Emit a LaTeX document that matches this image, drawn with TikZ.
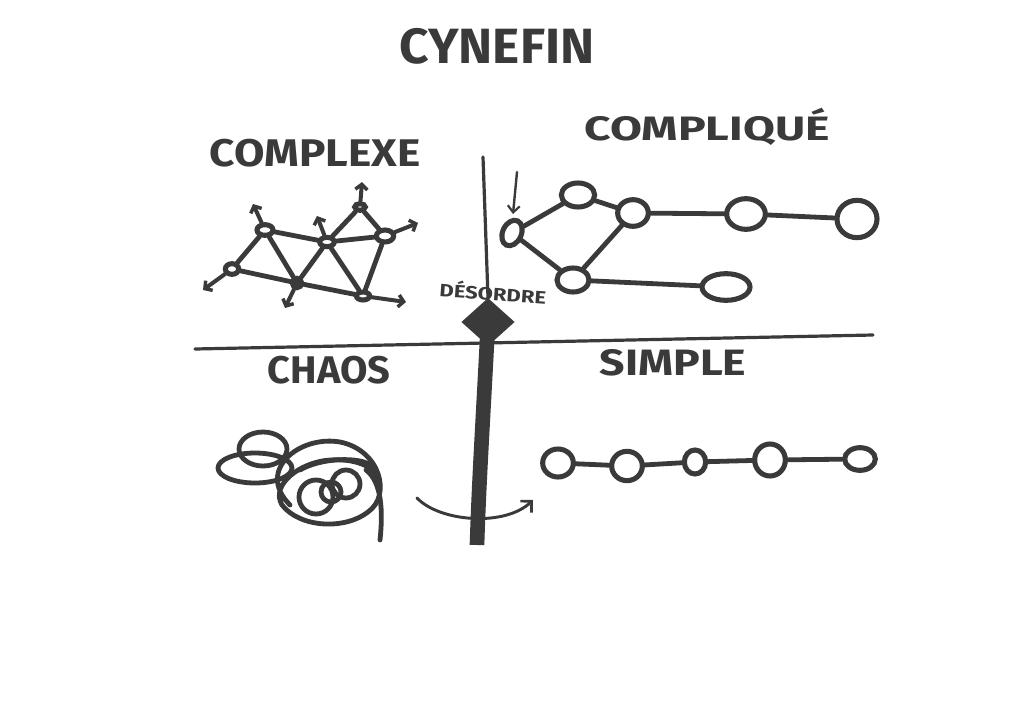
\documentclass[tikz,border=0pt]{standalone}
\usepackage{fontspec}
\setsansfont{Fira Sans}
\usetikzlibrary{arrows.meta,shapes.geometric}
\definecolor{ink}{HTML}{3A3A3A}
\newcommand\fitlabel[3]{\resizebox*{#1}{#2}{\sffamily\fontseries{sb}\selectfont #3}}
\tikzset{
  inkline/.style={draw=ink, line width=3.6pt, line cap=round, line join=round},
  axisline/.style={draw=ink, line width=2.4pt, line cap=round},
  bubble/.style={ellipse, draw=ink, line width=3.8pt, fill=white, inner sep=0pt},
  outarrow/.style={inkline, line width=3pt, -{Straight Barb[length=4pt,width=9pt,line width=2.6pt]}},
  thinarrow/.style={draw=ink, line width=2.2pt, line cap=round, -{Straight Barb[length=6pt,width=12pt,line width=2pt]}},
  title/.style={text=ink, inner sep=0pt}
}
\begin{document}
\begin{tikzpicture}[x=0.75pt,y=-0.75pt]
\useasboundingbox[fill=white] (0,0) rectangle (1024,724);

% ---------- titles ----------
\node[title] (tcyn) at (497,46) {\fitlabel{146pt}{27pt}{CYNEFIN}};
\node[title] (tcx) at (315,153) {\fitlabel{158pt}{21pt}{COMPLEXE}};
\node[title] (tcq) at (707,127) {\fitlabel{184pt}{28pt}{COMPLIQUÉ}};
\node[title] (tch) at (329,370) {\fitlabel{92pt}{21pt}{CHAOS}};
\node[title] (tsi) at (673,363) {\fitlabel{110pt}{20pt}{SIMPLE}};
\node[title, rotate=-4] (tds) at (493,292) {\fitlabel{80pt}{13pt}{DÉSORDRE}};

% ---------- axes ----------
\coordinate (hl) at (195,349);
\coordinate (hr) at (873,335);
\coordinate (vt) at (483,157);
\coordinate (vb) at (477,545);
\draw[axisline] (hl) -- (hr);
\node[diamond, fill=ink, inner sep=0pt, minimum width=40pt, minimum height=36pt] (dz) at (488,322) {};
\draw[axisline] (vt) -- (dz.north);
% transition arrow (chaos -> simple)
\coordinate (ta) at (417,498);
\coordinate (tb) at (533,500);
\draw[thinarrow] (ta) .. controls (440,522) and (505,527) .. (tb);
\draw[draw=ink, line width=11pt, line cap=butt] (dz.center) .. controls (483,420) and (479,480) .. (vb);

% ---------- COMPLEXE network ----------
\node[bubble, minimum width=12pt, minimum height=8pt] (n1) at (265,230) {};
\node[bubble, minimum width=11pt, minimum height=7pt] (n2) at (327,242) {};
\node[bubble, minimum width=8pt, minimum height=5pt] (n3) at (360,207) {};
\node[bubble, minimum width=13pt, minimum height=9pt] (n4) at (385,236) {};
\node[bubble, minimum width=10pt, minimum height=8pt] (n5) at (232,269) {};
\node[bubble, minimum width=7pt, minimum height=7pt, fill=ink] (n6) at (297,283) {};
\node[bubble, minimum width=10pt, minimum height=6pt] (n7) at (363,296) {};
\draw[inkline] (n1) -- (n2);
\draw[inkline] (n1) -- (n5);
\draw[inkline] (n1) -- (n6);
\draw[inkline] (n2) -- (n3);
\draw[inkline] (n2) -- (n4);
\draw[inkline] (n3) -- (n4);
\draw[inkline] (n2) -- (n6);
\draw[inkline] (n2) -- (n7);
\draw[inkline] (n5) -- (n6);
\draw[inkline] (n6) -- (n7);
\draw[inkline] (n4) -- (n7);
\coordinate (a1) at (253,204);
\coordinate (a2) at (317,216);
\coordinate (a3) at (362,182);
\coordinate (a4) at (418,223);
\coordinate (a5) at (203,290);
\coordinate (a6) at (285,308);
\coordinate (a7) at (406,302);
\draw[outarrow] (n1) -- (a1);
\draw[outarrow] (n2) -- (a2);
\draw[outarrow] (n3) -- (a3);
\draw[outarrow] (n4) -- (a4);
\draw[outarrow] (n5) -- (a5);
\draw[outarrow] (n6) -- (a6);
\draw[outarrow] (n7) -- (a7);

% ---------- COMPLIQUE chain ----------
\node[bubble, minimum width=14pt, minimum height=20pt, rotate=-25] (c1) at (512,233) {};
\node[bubble, minimum width=25pt, minimum height=18pt] (c2) at (578,195) {};
\node[bubble, minimum width=23pt, minimum height=20pt] (c3) at (633,213) {};
\node[bubble, minimum width=29pt, minimum height=23pt] (c4) at (746,214) {};
\node[bubble, minimum width=30pt, minimum height=28pt] (c5) at (857,219) {};
\node[bubble, minimum width=24pt, minimum height=18pt] (c6) at (573,280) {};
\node[bubble, minimum width=36pt, minimum height=20pt] (c7) at (726,287) {};
\draw[inkline] (c1) -- (c2);
\draw[inkline] (c2) -- (c3);
\draw[inkline] (c3) -- (c4);
\draw[inkline] (c4) -- (c5);
\draw[inkline] (c1) -- (c6);
\draw[inkline] (c6) -- (c3);
\draw[inkline] (c6) -- (c7);
\coordinate (p1) at (517,172);
\coordinate (p2) at (513,214);
\draw[draw=ink, line width=1.8pt, line cap=round, -{Straight Barb[length=5pt,width=9pt,line width=1.6pt]}] (p1) -- (p2);

% ---------- SIMPLE chain ----------
\node[bubble, minimum width=23pt, minimum height=21pt] (s1) at (558,463) {};
\node[bubble, minimum width=23pt, minimum height=22pt] (s2) at (627,466) {};
\node[bubble, minimum width=16pt, minimum height=18pt] (s3) at (695,462) {};
\node[bubble, minimum width=23pt, minimum height=24pt] (s4) at (770,460) {};
\node[bubble, minimum width=23pt, minimum height=17pt] (s5) at (860,459) {};
\draw[inkline] (s1) -- (s2);
\draw[inkline] (s2) -- (s3);
\draw[inkline] (s3) -- (s4);
\draw[inkline] (s4) -- (s5);

% ---------- CHAOS scribble ----------
\draw[inkline] (255,468) ellipse [x radius=37, y radius=15];
\draw[inkline] (263,449) ellipse [x radius=24, y radius=17];
\draw[inkline] (290,505) .. controls (255,470) and (300,435) .. (340,442)
   .. controls (380,450) and (392,495) .. (368,512)
   .. controls (345,530) and (300,528) .. (282,505)
   .. controls (270,485) and (300,462) .. (330,460)
   .. controls (360,458) and (378,470) .. (378,480);
\draw[inkline] (316,497) circle [radius=17];
\draw[inkline] (346,484) circle [radius=14];
\draw[inkline] (331,492) circle [radius=10];
\draw[inkline] (366,470) .. controls (382,482) and (383,512) .. (380,540);
\draw[inkline] (300,470) .. controls (320,458) and (360,456) .. (372,466);
\end{tikzpicture}
\end{document}
